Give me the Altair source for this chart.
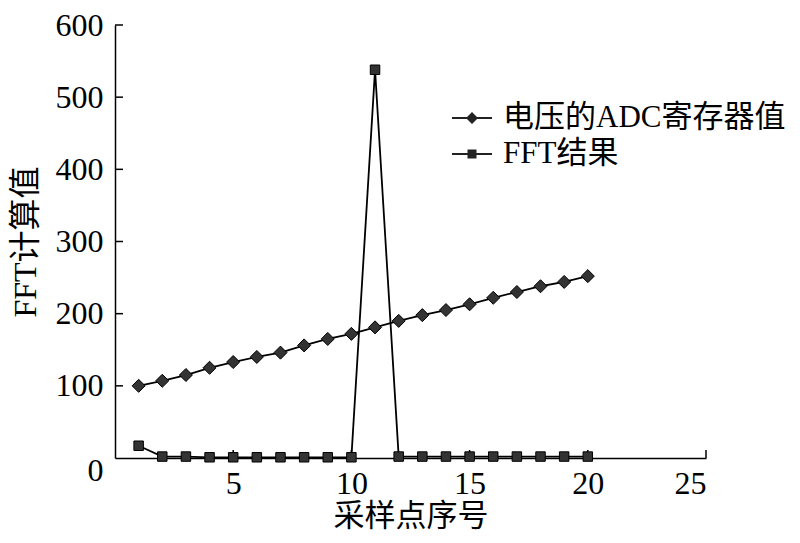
import altair as alt
import pandas as pd

x_vals = list(range(1, 21))
adc_vals = [100, 107, 115, 125, 133, 140, 146, 156, 165, 172,
            181, 190, 198, 205, 213, 222, 230, 238, 244, 252]
fft_vals = [17, 2, 2, 1, 1, 1, 1, 1, 1, 1,
            538, 2, 2, 2, 2, 2, 2, 2, 2, 2]
series_names = ["电压的ADC寄存器值", "FFT结果"]
x_ticks = [5, 10, 15, 20, 25]
y_ticks = [100, 200, 300, 400, 500, 600]

df = pd.DataFrame({
    "x": x_vals + x_vals,
    "y": adc_vals + fft_vals,
    "series": [series_names[0]] * len(x_vals) + [series_names[1]] * len(x_vals),
})
xt = pd.DataFrame({"xv": x_ticks})
yt = pd.DataFrame({"yv": y_ticks})

FONT = "Liberation Serif, Noto Sans CJK SC"
W, H = 591, 433

xscale = alt.Scale(domain=[0, 25], nice=False, zero=False)
yscale = alt.Scale(domain=[0, 600], nice=False)

xenc = alt.X("x:Q", scale=xscale, title="采样点序号",
             axis=alt.Axis(values=[0] + x_ticks, ticks=False, tickSize=0, grid=False,
                           labelExpr="datum.value == 0 ? '' : datum.label",
                           labelPadding=10, titlePadding=2, titleFontSize=31))
yenc = alt.Y("y:Q", scale=yscale, title="FFT计算值",
             axis=alt.Axis(values=[0] + y_ticks, ticks=False, tickSize=0, grid=False,
                           labelPadding=12, titlePadding=13,
                           labelOffset={"condition": {"test": "datum.value === 0", "value": 12}, "value": 0}))

lines = alt.Chart(df).mark_line(color="black", strokeWidth=1.8).encode(
    x=xenc, y=yenc, detail="series:N")

points = alt.Chart(df).mark_point(filled=True, fill="#333333", stroke="black",
                                  strokeWidth=1, opacity=1).encode(
    x=alt.X("x:Q", scale=xscale),
    y=alt.Y("y:Q", scale=yscale),
    shape=alt.Shape("series:N", scale=alt.Scale(domain=series_names, range=["diamond", "square"]),
                    legend=None),
    size=alt.Size("series:N", scale=alt.Scale(domain=series_names, range=[170, 90]), legend=None),
)

diamond_path = "M-2,-0.1L2,-0.1L2,0.1L-2,0.1Z M0,-0.6L0.6,0L0,0.6L-0.6,0Z"
square_path = "M-2,-0.1L2,-0.1L2,0.1L-2,0.1Z M-0.45,-0.45L0.45,-0.45L0.45,0.45L-0.45,0.45Z"

legend_layer = alt.Chart(df).mark_point(filled=True, fill="#222222", stroke="#111111",
                                        strokeWidth=0.5, opacity=0).encode(
    x=alt.X("x:Q", scale=xscale),
    y=alt.Y("y:Q", scale=yscale),
    shape=alt.Shape("series:N", scale=alt.Scale(domain=series_names, range=[diamond_path, square_path]),
                    title=None,
                    legend=alt.Legend(orient="none", legendX=341.5, legendY=77.5, padding=0,
                                      symbolSize=400, symbolOpacity=1, symbolFillColor="#222222",
                                      symbolStrokeColor="#111111", symbolStrokeWidth=0.5,
                                      labelFont=FONT, labelFontSize=31, labelColor="black",
                                      labelOffset=15.5, rowPadding=4, labelLimit=400)),
)

ytick_rules = alt.Chart(yt).mark_rule(color="black", strokeWidth=1.5).encode(
    y=alt.Y("yv:Q", scale=yscale), x=alt.value(0), x2=alt.value(8))
xtick_rules = alt.Chart(xt).mark_rule(color="black", strokeWidth=1.5).encode(
    x=alt.X("xv:Q", scale=xscale), y=alt.value(H), y2=alt.value(H - 8))

chart = alt.layer(lines, ytick_rules, xtick_rules, points, legend_layer).resolve_scale(
    shape="independent", size="independent"
).properties(
    width=W, height=H,
    background="white",
    autosize=alt.AutoSizeParams(type="none"),
    padding={"left": 107, "top": 17, "right": 86, "bottom": 85},
).configure_view(stroke=None).configure_axis(
    labelFont=FONT, titleFont=FONT, labelFontSize=32, titleFontSize=32,
    labelColor="black", titleColor="black", titleFontWeight="normal",
    domainColor="black", domainWidth=1.5,
)

chart.save("out.html", embed_options={"renderer": "svg", "actions": False})
